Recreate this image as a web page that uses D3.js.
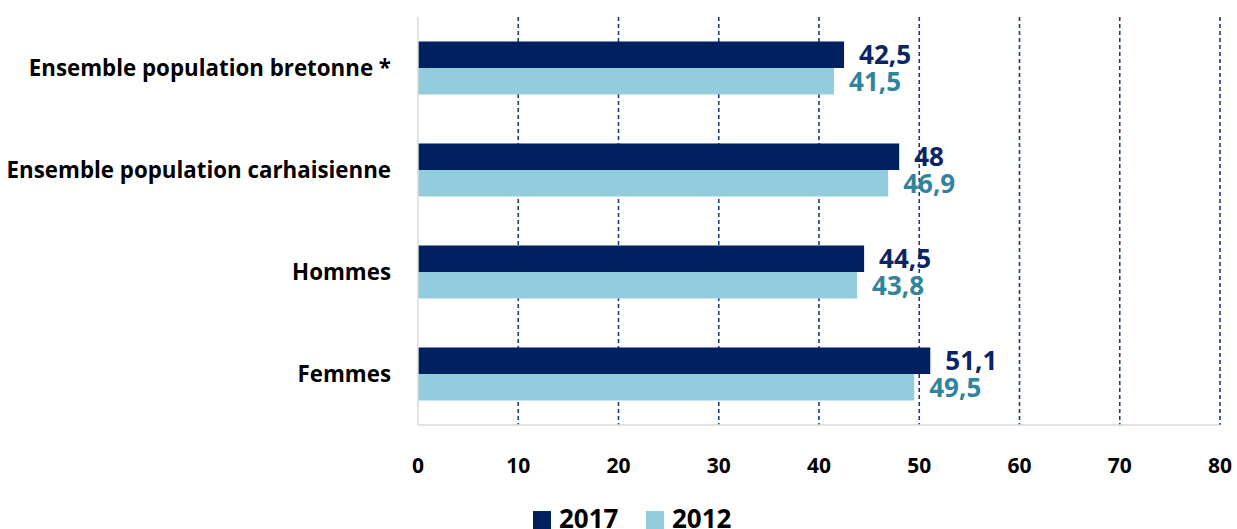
<!DOCTYPE html>
<html><head><meta charset="utf-8">
<script src="https://cdn.jsdelivr.net/npm/d3@7"></script>
<style>body{margin:0;background:#fff}svg{display:block}</style>
</head><body>
<svg id="c" width="1237" height="529"></svg>
<script>
const categories = ["Ensemble population bretonne *","Ensemble population carhaisienne","Hommes","Femmes"];
const series = ["2017","2012"];
const values2017 = [42.5, 48, 44.5, 51.1];
const values2012 = [41.5, 46.9, 43.8, 49.5];
const labels2017 = ["42,5","48","44,5","51,1"];
const labels2012 = ["41,5","46,9","43,8","49,5"];
const xTicks = [0,10,20,30,40,50,60,70,80];

(function(){
const FONT = "'Open Sans', 'Noto Sans', sans-serif";
const colors = {"2017":"#002060","2012":"#93CDDD"};
const labelColors = {"2017":"#0B2463","2012":"#31849B"};

const svg = d3.select("#c");
const pL = 418, pR = 1220, pT = 17, pB = 425;
const x = d3.scaleLinear().domain([0,80]).range([pL,pR]);
const y = d3.scaleBand().domain(categories).range([pT,pB]).paddingInner(0.48).paddingOuter(0.24);
const ys = d3.scaleBand().domain(series).range([0,y.bandwidth()]);

svg.append("g").selectAll("line").data(xTicks.filter(d=>d>0)).join("line")
  .attr("x1",d=>x(d)).attr("x2",d=>x(d)).attr("y1",pT).attr("y2",pB)
  .attr("stroke","#1F3A78").attr("stroke-width",1.6).attr("stroke-dasharray","4,3");

const data = categories.map((c,i)=>({c, v:{"2017":values2017[i],"2012":values2012[i]}, l:{"2017":labels2017[i],"2012":labels2012[i]}}));

const g = svg.append("g");
data.forEach(d=>{
  series.forEach(s=>{
    g.append("rect").attr("x",x(0)).attr("y",y(d.c)+ys(s))
      .attr("width",x(d.v[s])-x(0)).attr("height",ys.bandwidth())
      .attr("fill",colors[s]);
  });
});
data.forEach(d=>{
  series.forEach(s=>{
    g.append("text").attr("x",x(d.v[s])+15).attr("y",y(d.c)+ys(s)+ys.bandwidth()/2)
      .attr("dy","0.36em").attr("fill",labelColors[s])
      .style("font-family",FONT).style("font-weight","bold").style("font-size","26px")
      .text(d.l[s]);
  });
});

svg.append("line").attr("x1",pL).attr("x2",pL).attr("y1",pT).attr("y2",pB).attr("stroke","#D9D9D9").attr("stroke-width",1.5);
svg.append("line").attr("x1",pL).attr("x2",pR).attr("y1",pB).attr("y2",pB).attr("stroke","#D9D9D9").attr("stroke-width",1.5);

svg.append("g").selectAll("text").data(xTicks).join("text")
  .attr("x",d=>x(d)).attr("y",465).attr("dy","0.36em").attr("text-anchor","middle")
  .style("font-family",FONT).style("font-weight","bold").style("font-size","21px").attr("fill","#000")
  .text(d=>d);

svg.append("g").selectAll("text").data(categories).join("text")
  .attr("x",391).attr("y",d=>y(d)+y.bandwidth()/2).attr("dy","0.36em").attr("text-anchor","end")
  .style("font-family",FONT).style("font-weight","bold").style("font-size","22.3px").attr("fill","#000")
  .text(d=>d);

const legend = svg.append("g");
const legX = [533, 646];
series.forEach((s,i)=>{
  legend.append("rect").attr("x",legX[i]).attr("y",511).attr("width",18).attr("height",18).attr("fill",colors[s]);
  legend.append("text").attr("x",legX[i]+26).attr("y",528)
    .style("font-family",FONT).style("font-weight","bold").style("font-size","26px").attr("fill","#000").text(s);
});
})();
</script>
</body></html>
